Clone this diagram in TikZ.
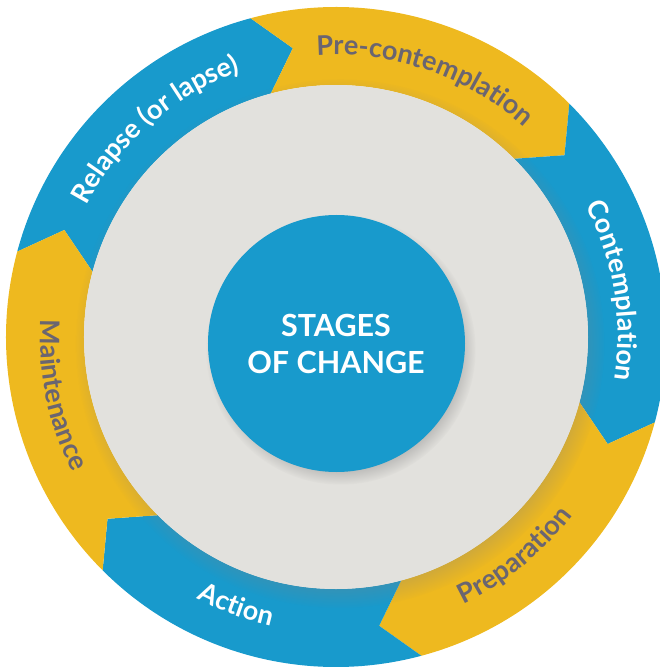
\documentclass[tikz,border=0pt]{standalone}
\usepackage{fontspec}
\setmainfont{Lato}
\usepackage{xcolor}
\usetikzlibrary{decorations.text,shadows}
\definecolor{socBlue}{HTML}{189ACC}
\definecolor{socYellow}{HTML}{EEB91F}
\definecolor{socMist}{HTML}{E2E1DD}
\definecolor{socInk}{HTML}{6A6571}
\newcommand{\ringfont}{\bfseries\fontsize{27}{31}\selectfont}
\tikzset{
  outward/.style 2 args={decorate,decoration={text along path,text align=center,
      text={|\ringfont\color{#1}|#2}}},
  inward/.style 2 args={outward={#1}{#2}},
  disc/.style={circle,inner sep=0pt,
      circular drop shadow={shadow xshift=4pt,shadow yshift=-6pt,
      shadow scale=1.05,opacity=0.5}},
}

\begin{document}
\begin{tikzpicture}[x=1pt,y=1pt]
  \useasboundingbox (-336,-330) rectangle (324,337);
  % ring of arrow segments, clockwise
  \foreach \a/\col in {165/socBlue,105/socYellow,45/socBlue,-15/socYellow,-75/socBlue,-135/socYellow}
    \fill[\col] (\a:330) arc[start angle=\a,end angle=\a-60,radius=330]
      -- ({\a-66.5}:292) -- ({\a-60}:252)
      arc[start angle=\a-60,end angle=\a,radius=252]
      -- ({\a-6.5}:292) -- cycle;

  \node[disc,fill=socMist,minimum size=504pt] (mist) at (0,0) {};
  \node[disc,fill=socBlue,minimum size=257pt] (core) at (0.5,-6.5) {};
  \node[text=white,align=center,font=\bfseries\fontsize{30.5}{37}\selectfont] (title) at (0,-7)
    {STAGES\\OF CHANGE};

  % upper labels read clockwise, lower ones anticlockwise
  \path[outward={white}{Relapse (or lapse)}] (176:282) arc[start angle=176,end angle=86,radius=282];
  \path[outward={socInk}{Pre-contemplation}] (116:282) arc[start angle=116,end angle=26,radius=282];
  \path[outward={white}{Contemplation}] (54.5:282) arc[start angle=54.5,end angle=-35.5,radius=282];
  \path[inward={socInk}{Preparation}] (-95.7:296) arc[start angle=-95.7,end angle=-5.7,radius=296];
  \path[inward={white}{Action}] (-155.4:296) arc[start angle=-155.4,end angle=-65.4,radius=296];
  \path[inward={socInk}{Maintenance}] (146.9:296) arc[start angle=146.9,end angle=236.9,radius=296];
\end{tikzpicture}
\end{document}
